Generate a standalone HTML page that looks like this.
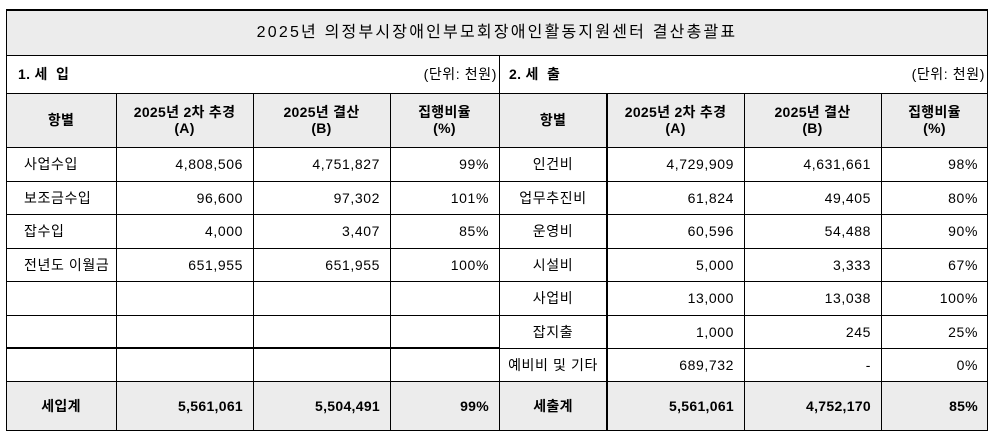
<!DOCTYPE html>
<html><head><meta charset="utf-8"><style>
body{margin:0;background:#fff;width:997px;height:438px;position:relative;overflow:hidden;font-family:"Liberation Sans","Noto Sans CJK KR","NanumGothic",sans-serif;font-size:14px;letter-spacing:0.6px;color:#000}
.b{position:absolute;background:#ececec}
.h{position:absolute;background:#000;height:1px}
.v{position:absolute;background:#000;width:1px}
.t{position:absolute;display:flex;align-items:center;white-space:nowrap;line-height:16px}
.c{justify-content:center;text-align:center}
.r{justify-content:flex-end;padding-right:10px;box-sizing:border-box}
.l{justify-content:flex-start;padding-left:18px;box-sizing:border-box}
.bd{font-weight:bold;letter-spacing:0.3px}
</style></head><body>
<div class="b" style="left:6px;top:10px;width:982px;height:45px"></div>
<div class="b" style="left:6px;top:93px;width:982px;height:54px"></div>
<div class="b" style="left:6px;top:381px;width:982px;height:50px"></div>
<div class="h" style="left:6px;top:9px;width:982px;height:2px"></div>
<div class="h" style="left:6px;top:55px;width:982px"></div>
<div class="h" style="left:6px;top:93px;width:982px"></div>
<div class="h" style="left:6px;top:147px;width:982px"></div>
<div class="h" style="left:6px;top:181px;width:982px"></div>
<div class="h" style="left:6px;top:214px;width:982px"></div>
<div class="h" style="left:6px;top:248px;width:982px"></div>
<div class="h" style="left:6px;top:281px;width:982px"></div>
<div class="h" style="left:6px;top:315px;width:982px"></div>
<div class="h" style="left:6px;top:347px;width:493px;height:2px"></div>
<div class="h" style="left:499px;top:348px;width:489px"></div>
<div class="h" style="left:6px;top:381px;width:982px"></div>
<div class="h" style="left:6px;top:430px;width:982px"></div>
<div class="v" style="left:6px;top:10px;height:421px"></div>
<div class="v" style="left:987px;top:10px;height:421px"></div>
<div class="v" style="left:116px;top:93px;height:338px"></div>
<div class="v" style="left:253px;top:93px;height:338px"></div>
<div class="v" style="left:390px;top:93px;height:338px"></div>
<div class="v" style="left:499px;top:55px;height:376px"></div>
<div class="v" style="left:606px;top:93px;height:338px;width:2px"></div>
<div class="v" style="left:744px;top:93px;height:338px"></div>
<div class="v" style="left:881px;top:93px;height:338px"></div>
<div class="t c" style="left:6px;top:10px;width:982px;height:45px;font-size:16px;letter-spacing:2.2px">2025년 의정부시장애인부모회장애인활동지원센터 결산총괄표</div>
<div class="t bd" style="left:18px;top:55px;height:38px">1. 세&nbsp;&nbsp;입</div>
<div class="t" style="left:380px;top:55px;height:38px;width:117px;justify-content:flex-end">(단위: 천원)</div>
<div class="t bd" style="left:509px;top:55px;height:38px">2. 세&nbsp;&nbsp;출</div>
<div class="t" style="left:870px;top:55px;height:38px;width:115px;justify-content:flex-end">(단위: 천원)</div>
<div class="t c bd" style="left:6px;top:93px;width:110px;height:54px">항별</div>
<div class="t c bd" style="left:116px;top:93px;width:137px;height:54px">2025년 2차 추경<br>(A)</div>
<div class="t c bd" style="left:253px;top:93px;width:137px;height:54px">2025년 결산<br>(B)</div>
<div class="t c bd" style="left:390px;top:93px;width:109px;height:54px">집행비율<br>(%)</div>
<div class="t c bd" style="left:499px;top:93px;width:108px;height:54px">항별</div>
<div class="t c bd" style="left:607px;top:93px;width:137px;height:54px">2025년 2차 추경<br>(A)</div>
<div class="t c bd" style="left:744px;top:93px;width:137px;height:54px">2025년 결산<br>(B)</div>
<div class="t c bd" style="left:881px;top:93px;width:107px;height:54px">집행비율<br>(%)</div>
<div class="t l" style="left:6px;top:147px;width:110px;height:34px">사업수입</div>
<div class="t r" style="left:116px;top:147px;width:137px;height:34px">4,808,506</div>
<div class="t r" style="left:253px;top:147px;width:137px;height:34px">4,751,827</div>
<div class="t r" style="left:390px;top:147px;width:109px;height:34px">99%</div>
<div class="t l" style="left:6px;top:181px;width:110px;height:33px">보조금수입</div>
<div class="t r" style="left:116px;top:181px;width:137px;height:33px">96,600</div>
<div class="t r" style="left:253px;top:181px;width:137px;height:33px">97,302</div>
<div class="t r" style="left:390px;top:181px;width:109px;height:33px">101%</div>
<div class="t l" style="left:6px;top:214px;width:110px;height:34px">잡수입</div>
<div class="t r" style="left:116px;top:214px;width:137px;height:34px">4,000</div>
<div class="t r" style="left:253px;top:214px;width:137px;height:34px">3,407</div>
<div class="t r" style="left:390px;top:214px;width:109px;height:34px">85%</div>
<div class="t l" style="left:6px;top:248px;width:110px;height:33px">전년도 이월금</div>
<div class="t r" style="left:116px;top:248px;width:137px;height:33px">651,955</div>
<div class="t r" style="left:253px;top:248px;width:137px;height:33px">651,955</div>
<div class="t r" style="left:390px;top:248px;width:109px;height:33px">100%</div>
<div class="t c" style="left:499px;top:147px;width:108px;height:34px">인건비</div>
<div class="t r" style="left:607px;top:147px;width:137px;height:34px">4,729,909</div>
<div class="t r" style="left:744px;top:147px;width:137px;height:34px">4,631,661</div>
<div class="t r" style="left:881px;top:147px;width:107px;height:34px">98%</div>
<div class="t c" style="left:499px;top:181px;width:108px;height:33px">업무추진비</div>
<div class="t r" style="left:607px;top:181px;width:137px;height:33px">61,824</div>
<div class="t r" style="left:744px;top:181px;width:137px;height:33px">49,405</div>
<div class="t r" style="left:881px;top:181px;width:107px;height:33px">80%</div>
<div class="t c" style="left:499px;top:214px;width:108px;height:34px">운영비</div>
<div class="t r" style="left:607px;top:214px;width:137px;height:34px">60,596</div>
<div class="t r" style="left:744px;top:214px;width:137px;height:34px">54,488</div>
<div class="t r" style="left:881px;top:214px;width:107px;height:34px">90%</div>
<div class="t c" style="left:499px;top:248px;width:108px;height:33px">시설비</div>
<div class="t r" style="left:607px;top:248px;width:137px;height:33px">5,000</div>
<div class="t r" style="left:744px;top:248px;width:137px;height:33px">3,333</div>
<div class="t r" style="left:881px;top:248px;width:107px;height:33px">67%</div>
<div class="t c" style="left:499px;top:281px;width:108px;height:34px">사업비</div>
<div class="t r" style="left:607px;top:281px;width:137px;height:34px">13,000</div>
<div class="t r" style="left:744px;top:281px;width:137px;height:34px">13,038</div>
<div class="t r" style="left:881px;top:281px;width:107px;height:34px">100%</div>
<div class="t c" style="left:499px;top:315px;width:108px;height:33px">잡지출</div>
<div class="t r" style="left:607px;top:315px;width:137px;height:33px">1,000</div>
<div class="t r" style="left:744px;top:315px;width:137px;height:33px">245</div>
<div class="t r" style="left:881px;top:315px;width:107px;height:33px">25%</div>
<div class="t c" style="left:499px;top:348px;width:108px;height:33px">예비비 및 기타</div>
<div class="t r" style="left:607px;top:348px;width:137px;height:33px">689,732</div>
<div class="t r" style="left:744px;top:348px;width:137px;height:33px">-</div>
<div class="t r" style="left:881px;top:348px;width:107px;height:33px">0%</div>
<div class="t c bd" style="left:6px;top:381px;width:110px;height:50px">세입계</div>
<div class="t r bd" style="left:116px;top:381px;width:137px;height:50px">5,561,061</div>
<div class="t r bd" style="left:253px;top:381px;width:137px;height:50px">5,504,491</div>
<div class="t r bd" style="left:390px;top:381px;width:109px;height:50px">99%</div>
<div class="t c bd" style="left:499px;top:381px;width:108px;height:50px">세출계</div>
<div class="t r bd" style="left:607px;top:381px;width:137px;height:50px">5,561,061</div>
<div class="t r bd" style="left:744px;top:381px;width:137px;height:50px">4,752,170</div>
<div class="t r bd" style="left:881px;top:381px;width:107px;height:50px">85%</div>
</body></html>
